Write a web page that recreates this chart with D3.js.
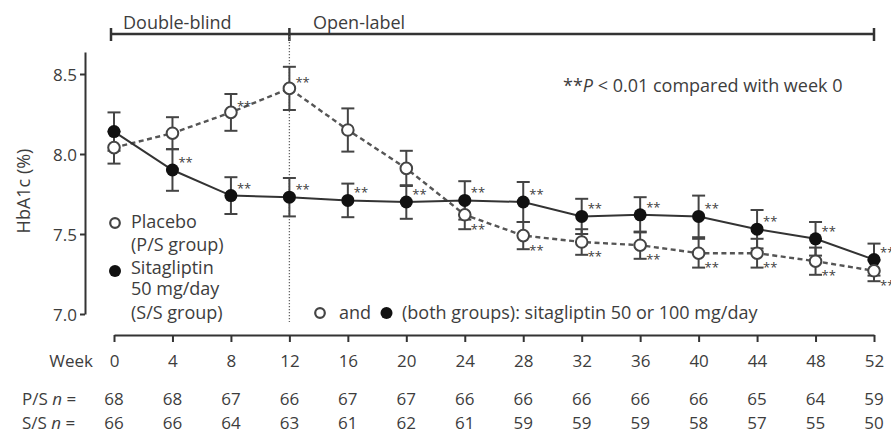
<!DOCTYPE html>
<html><head><meta charset="utf-8">
<script src="https://cdn.jsdelivr.net/npm/d3@7"></script>
<style>
body{margin:0;background:#fff;}
text{font-family:"Open Sans",sans-serif;fill:#3d3d3d;}
</style></head>
<body>
<script>
const weeks = [0,4,8,12,16,20,24,28,32,36,40,44,48,52];
const placeboMean = [8.04,8.13,8.26,8.41,8.15,7.91,7.62,7.49,7.45,7.43,7.38,7.38,7.33,7.27];
const placeboErr  = [0.10,0.10,0.115,0.135,0.135,0.11,0.09,0.085,0.08,0.085,0.09,0.09,0.085,0.065];
const sitaMean = [8.14,7.90,7.74,7.73,7.71,7.70,7.71,7.70,7.61,7.62,7.61,7.53,7.47,7.34];
const sitaErr  = [0.12,0.13,0.115,0.12,0.105,0.105,0.12,0.125,0.11,0.11,0.13,0.12,0.105,0.10];
const placeboStars = [0,0,1,1,0,0,1,1,1,1,1,1,1,1];
const sitaStars    = [0,1,1,1,1,1,1,1,1,1,1,1,1,1];
const psN = [68,68,67,66,67,67,66,66,66,66,66,65,64,59];
const ssN = [66,66,64,63,61,62,61,59,59,59,58,57,55,50];
const yTicks = [7.0,7.5,8.0,8.5];
const phaseWeeks = [0,12,52];
const phaseLabels = ["Double-blind","Open-label"];

const W=891,H=433;
const svg=d3.select("body").append("svg").attr("width",W).attr("height",H);
const x=d3.scaleLinear().domain([0,52]).range([114,874]);
const y=d3.scaleLinear().domain([7,8.6375]).range([314,52]);
const ink="#333";

// Y axis
const ya=svg.append("g").attr("transform","translate(85,0)")
  .call(d3.axisLeft(y).tickValues(yTicks).tickFormat(d3.format(".1f")).tickSizeInner(5).tickSizeOuter(0).tickPadding(3));
ya.select(".domain").attr("stroke",ink).attr("stroke-width",2);
ya.selectAll(".tick line").attr("stroke",ink).attr("stroke-width",2);
ya.selectAll(".tick text").style("font-size","17px").attr("dy","0.36em");

// X axis
const xa=svg.append("g").attr("transform","translate(0,335)")
  .call(d3.axisBottom(x).tickValues(weeks).tickSizeInner(7).tickSizeOuter(0));
xa.select(".domain").attr("stroke",ink).attr("stroke-width",2);
xa.selectAll(".tick line").attr("stroke",ink).attr("stroke-width",2);
xa.selectAll(".tick text").style("font-size","17px").attr("y",32).attr("dy",0);

svg.append("text").attr("x",93).attr("y",367).attr("text-anchor","end").style("font-size","17px").text("Week");

// y label
svg.append("text").attr("transform","translate(30,191) rotate(-90)").attr("text-anchor","middle")
  .style("font-size","18px").text("HbA1c (%)");

// top bracket
const bx=[x(phaseWeeks[0])-3,x(phaseWeeks[1]),x(phaseWeeks[2])];
svg.append("line").attr("x1",bx[0]).attr("x2",bx[2]).attr("y1",34).attr("y2",34).attr("stroke",ink).attr("stroke-width",2.5);
bx.forEach(v=>svg.append("line").attr("x1",v).attr("x2",v).attr("y1",28).attr("y2",41).attr("stroke",ink).attr("stroke-width",2.5));
svg.append("text").attr("x",123).attr("y",29).style("font-size","18px").text(phaseLabels[0]);
svg.append("text").attr("x",313).attr("y",29).style("font-size","18px").text(phaseLabels[1]);

// dotted vertical line at week 12
svg.append("line").attr("x1",x(12)).attr("x2",x(12)).attr("y1",36).attr("y2",322)
  .attr("stroke","#666").attr("stroke-width",1.3).attr("stroke-dasharray","1.2,1.8");

// annotation
const ann=svg.append("text").attr("x",563).attr("y",92).style("font-size","18px");
ann.append("tspan").text("**");
ann.append("tspan").style("font-style","italic").text("P");
ann.append("tspan").text(" < 0.01 compared with week 0");

// lines
const pData=weeks.map((w,i)=>({w,m:placeboMean[i],e:placeboErr[i],s:placeboStars[i]}));
const sData=weeks.map((w,i)=>({w,m:sitaMean[i],e:sitaErr[i],s:sitaStars[i]}));
const line=d3.line().x(d=>x(d.w)).y(d=>y(d.m));
svg.append("path").datum(pData).attr("d",line).attr("fill","none").attr("stroke","#555").attr("stroke-width",2.4).attr("stroke-dasharray","5,3.5");
svg.append("path").datum(sData).attr("d",line).attr("fill","none").attr("stroke",ink).attr("stroke-width",2);

// error bars
function errBars(data){
  const g=svg.append("g").attr("stroke","#444").attr("stroke-width",2);
  data.forEach(d=>{
    const cx=x(d.w),t=y(d.m+d.e),b=y(d.m-d.e);
    g.append("line").attr("x1",cx).attr("x2",cx).attr("y1",t).attr("y2",b);
    g.append("line").attr("x1",cx-6.5).attr("x2",cx+6.5).attr("y1",t).attr("y2",t);
    g.append("line").attr("x1",cx-6.5).attr("x2",cx+6.5).attr("y1",b).attr("y2",b);
  });
}
errBars(sData);
errBars(pData);

// markers
svg.append("g").selectAll("circle").data(sData).join("circle")
  .attr("cx",d=>x(d.w)).attr("cy",d=>y(d.m)).attr("r",6.5).attr("fill","#111");
svg.append("g").selectAll("circle").data(pData).join("circle")
  .attr("cx",d=>x(d.w)).attr("cy",d=>y(d.m)).attr("r",5.8).attr("fill","#fff").attr("stroke","#444").attr("stroke-width",2);

// stars
svg.append("g").selectAll("text").data(sData.filter(d=>d.s)).join("text")
  .attr("x",d=>x(d.w)+6).attr("y",d=>y(d.m)-3).style("font-size","13px").text("**");
svg.append("g").selectAll("text").data(pData.filter(d=>d.s)).join("text")
  .attr("x",d=>x(d.w)+6).attr("y",d=>d.w>=24?y(d.m)+19:y(d.m)-1).style("font-size","13px").text("**");

// legend
svg.append("circle").attr("cx",115).attr("cy",223).attr("r",4.8).attr("fill","#fff").attr("stroke","#444").attr("stroke-width",2.2);
svg.append("circle").attr("cx",115).attr("cy",271).attr("r",6).attr("fill","#111");
[["Placebo",228],["(P/S group)",251],["Sitagliptin",274],["50 mg/day",295],["(S/S group)",319]].forEach(([t,yy])=>
  svg.append("text").attr("x",131).attr("y",yy).style("font-size","18px").text(t));

// bottom note
svg.append("circle").attr("cx",320).attr("cy",313).attr("r",4.8).attr("fill","#fff").attr("stroke","#444").attr("stroke-width",2.2);
svg.append("text").attr("x",339).attr("y",319).style("font-size","18px").text("and");
svg.append("circle").attr("cx",386.5).attr("cy",313).attr("r",6).attr("fill","#111");
svg.append("text").attr("x",402).attr("y",319).style("font-size","18px").text("(both groups): sitagliptin 50 or 100 mg/day");

// n rows
function nRow(label,vals,yy){
  const t=svg.append("text").attr("x",22).attr("y",yy).style("font-size","17px");
  t.append("tspan").text(label+" ");
  t.append("tspan").style("font-style","italic").text("n");
  t.append("tspan").text(" =");
  svg.append("g").selectAll("text").data(vals).join("text")
    .attr("x",(d,i)=>x(weeks[i])).attr("y",yy).attr("text-anchor","middle").style("font-size","17px").text(d=>d);
}
nRow("P/S",psN,405);
nRow("S/S",ssN,429);
</script>
</body></html>
